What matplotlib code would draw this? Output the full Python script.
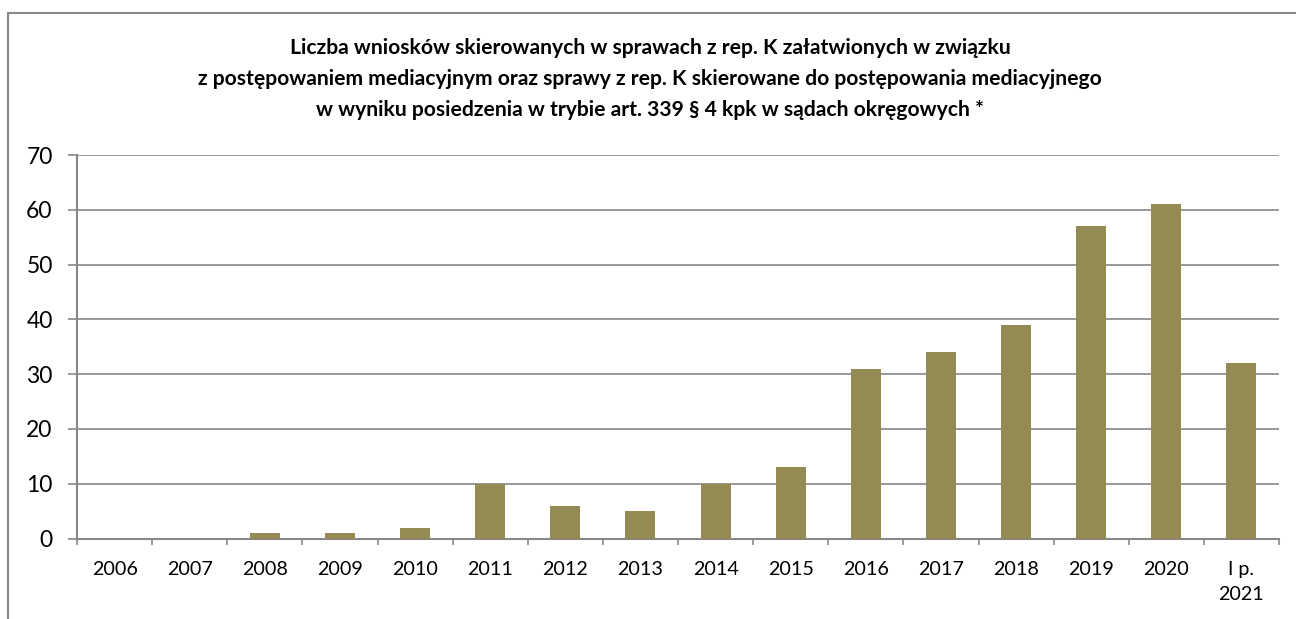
import matplotlib
matplotlib.use("Agg")
import matplotlib.pyplot as plt
import numpy as np
from matplotlib.patches import Rectangle

categories = ["2006", "2007", "2008", "2009", "2010", "2011", "2012", "2013",
              "2014", "2015", "2016", "2017", "2018", "2019", "2020", "I p.\n2021"]
values = [0, 0, 1, 1, 2, 10, 6, 5, 10, 13, 31, 34, 39, 57, 61, 32]
yticks = [0, 10, 20, 30, 40, 50, 60, 70]
title = ("Liczba wniosków skierowanych w sprawach z rep. K załatwionych w związku\n"
         "z postępowaniem mediacyjnym oraz sprawy z rep. K skierowane do postępowania mediacyjnego\n"
         "w wyniku posiedzenia w trybie art. 339 § 4 kpk w sądach okręgowych *")

plt.rcParams['font.family'] = ['Lato', 'DejaVu Sans']
W, H = 1296, 619
fig = plt.figure(figsize=(W / 100, H / 100), dpi=100)
gray = "#878787"

fig.patches.append(Rectangle((8 / W, -0.1), 1.2, 1 - 13 / H + 0.1, transform=fig.transFigure,
                             fill=False, edgecolor=gray, linewidth=1.5))

ax = fig.add_axes([77 / W, 1 - 538.5 / H, (1279 - 77) / W, (538.5 - 155) / H])
x = np.arange(len(categories))
ax.bar(x, values, width=0.4, color="#948A54", zorder=3)
ax.set_xlim(-0.5, len(categories) - 0.5)
ax.set_ylim(0, 70)
ax.set_yticks(yticks)
ax.tick_params(axis='y', labelsize=16.5, length=6.5, width=1.2, color=gray, pad=11)
ax.set_xticks(x)
ax.set_xticklabels(categories, fontsize=14.2, linespacing=1.6)
ax.set_xticks(np.arange(len(categories) + 1) - 0.5, minor=True)
ax.tick_params(axis='x', which='major', length=0, pad=16)
ax.tick_params(axis='x', which='minor', length=4.5, width=1.2, color=gray)
for t in ax.get_xticklabels():
    t.set_verticalalignment('top')
ax.grid(axis='y', color=gray, linewidth=1.2, zorder=0)
for s in ['top', 'right']:
    ax.spines[s].set_visible(False)
for s in ['left', 'bottom']:
    ax.spines[s].set_color(gray)
    ax.spines[s].set_linewidth(1.5)

fig.text(650 / W, 1 - 79 / H, title, ha='center', va='center', fontsize=15.2,
         fontweight='bold', linespacing=1.66)

fig.savefig("out.png", dpi=100)
